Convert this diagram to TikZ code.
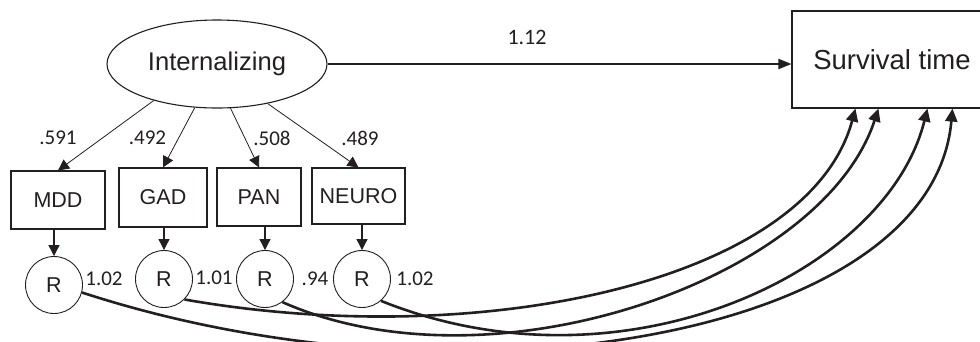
\documentclass[tikz,border=0pt]{standalone}
\usepackage{fontspec}
\setmainfont{Liberation Sans}
\newfontfamily\numfont{Carlito}
\usetikzlibrary{shapes.geometric,arrows.meta,calc}
\definecolor{ink}{RGB}{35,31,32}
\begin{document}
\begin{tikzpicture}[x=1pt,y=-1pt,
  box/.style={draw=ink,line width=1.1pt,inner sep=0pt,font=\fontsize{21.5}{24}\selectfont,text=ink},
  resid/.style={circle,draw=ink,line width=0.9pt,minimum size=57pt,inner sep=0pt,font=\fontsize{21.5}{24}\selectfont,text=ink},
  num/.style={font=\numfont\fontsize{21}{24}\selectfont,text=ink,inner sep=0pt},
  load/.style={draw=ink,line width=0.8pt,-{Triangle[length=11pt,width=11pt]}},
  down/.style={draw=ink,line width=1.1pt,-{Triangle[length=11pt,width=11pt]}},
  mainarr/.style={draw=ink,line width=1.8pt,-{Triangle[length=13pt,width=10pt]}},
  cov/.style={draw=ink,line width=2.6pt,-{Triangle[length=13pt,width=12pt]}},
]
\clip (0,0) rectangle (980,341);
\fill[white] (0,0) rectangle (980,341);
% latent
\node[ellipse,draw=ink,line width=1.1pt,minimum width=220pt,minimum height=88pt,inner sep=0pt,
      font=\fontsize{25.6}{30}\selectfont,text=ink] (ell) at (217,64) {Internalizing};
% outcome
\node[box,minimum width=200pt,minimum height=97pt,font=\fontsize{27.5}{32}\selectfont] (surv) at (892,59.5) {Survival time};
% indicators
\node[box,minimum width=94pt,minimum height=58pt] (mdd) at (58,200) {MDD};
\node[box,minimum width=88pt,minimum height=59pt] (gad) at (163,197.5) {GAD};
\node[box,minimum width=84pt,minimum height=58pt] (pan) at (259,197) {PAN};
\node[box,minimum width=93pt,minimum height=56pt] (neuro) at (358.5,196) {NEURO};
% residuals
\node[resid] (r1) at (54,285) {R};
\node[resid] (r2) at (164,279) {R};
\node[resid] (r3) at (265,279) {R};
\node[resid] (r4) at (362,279) {R};
% labels
\node[num,font=\numfont\fontsize{22}{24}\selectfont] (l0) at (527,37) {1.12};
\node[num] (l1) at (58,138) {.591};
\node[num] (l2) at (147.5,138) {.492};
\node[num] (l3) at (272,138) {.508};
\node[num] (l4) at (360,138) {.489};
\node[num] (v1) at (104,279) {1.02};
\node[num] (v2) at (214,278) {1.01};
\node[num] (v3) at (315,279) {.94};
\node[num] (v4) at (415,279) {1.02};
% paths
\draw[mainarr] (ell.east) -- (surv.west |- ell.east);
\draw[load] (ell.210) -- (mdd.north);
\draw[load] (ell.243) -- (gad.north);
\draw[load] (ell.287) -- (pan.north);
\draw[load] (ell.322) -- (neuro.north);
\draw[down] (mdd.south -| r1.north) -- (r1.north);
\draw[down] (gad.south -| r2.north) -- (r2.north);
\draw[down] (pan.south -| r3.north) -- (r3.north);
\draw[down] (neuro.south -| r4.north) -- (r4.north);
\draw[cov] (r2.-45) .. controls +(295,52) and +(-47,174) .. ($(surv.south west)+(64,0)$);
\draw[cov] (r3.-53) .. controls +(210,93) and +(-56,171) .. ($(surv.south west)+(87,0)$);
\draw[cov] (r4.-49) .. controls +(241,97) and +(-41,165) .. ($(surv.south west)+(136,0)$);
\draw[cov] (r1.-15) .. controls +(380,124) and +(-20,229) .. ($(surv.south west)+(161,0)$);
\end{tikzpicture}
\end{document}
